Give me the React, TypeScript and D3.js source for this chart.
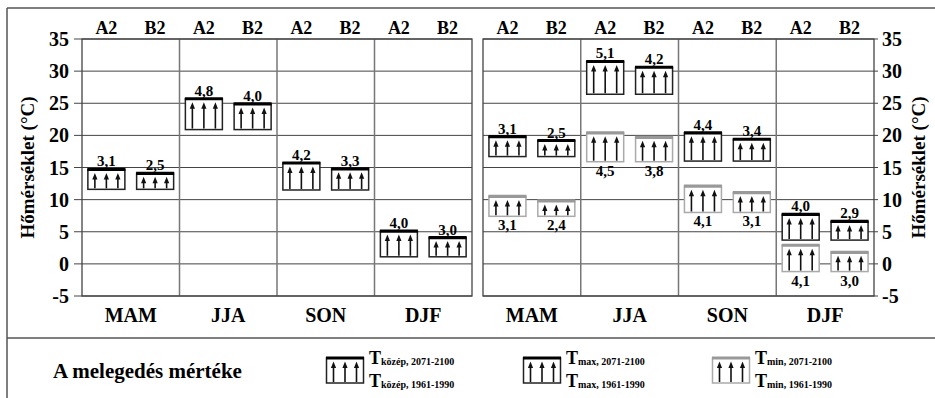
import React, { useEffect, useRef } from 'react';
import * as d3 from 'd3';

const seasons = ['MAM', 'JJA', 'SON', 'DJF'];
const scenarios = ['A2', 'B2'];
const yTicks = [-5, 0, 5, 10, 15, 20, 25, 30, 35];

// T közép, 1961-1990 alap + melegedés (bal panel)
const meanBase = [11.6, 20.9, 11.5, 1.1];
const meanA2 = [3.1, 4.8, 4.2, 4.0];
const meanB2 = [2.5, 4.0, 3.3, 3.0];

// T max (jobb panel)
const maxBase = [16.7, 26.4, 16.0, 3.7];
const maxA2 = [3.1, 5.1, 4.4, 4.0];
const maxB2 = [2.5, 4.2, 3.4, 2.9];

// T min (jobb panel)
const minBase = [7.4, 15.9, 8.0, -1.2];
const minA2 = [3.1, 4.5, 4.1, 4.1];
const minB2 = [2.4, 3.8, 3.1, 3.0];

const FONT = "'Times New Roman', 'Liberation Serif', Tinos, 'Nimbus Roman', 'DejaVu Serif', serif";

const App = () => {
  const ref = useRef<SVGSVGElement>(null);

  useEffect(() => {
    const svg = d3.select(ref.current);
    svg.selectAll('*').remove();
    svg.attr('font-family', FONT).attr('font-weight', 'bold');

    const y = d3.scaleLinear().domain([-5, 35]).range([296, 39]);
    const boxW = 37;

    // keret
    const frame = svg.append('g').attr('stroke', '#555').attr('stroke-width', 1.5).attr('fill', 'none');
    frame.append('line').attr('x1', 7).attr('y1', 8).attr('x2', 935).attr('y2', 8);
    frame.append('line').attr('x1', 7).attr('y1', 8).attr('x2', 7).attr('y2', 398);
    frame.append('line').attr('x1', 7).attr('y1', 338).attr('x2', 935).attr('y2', 338);

    const drawArrows = (g, cx, yTop, yBot) => {
      [-11.5, 0, 11.5].forEach(dx => {
        const ax = cx + dx;
        g.append('line')
          .attr('x1', ax).attr('x2', ax)
          .attr('y1', yBot - 1).attr('y2', yTop + 8)
          .attr('stroke', '#111').attr('stroke-width', 1.6);
        g.append('path')
          .attr('d', `M${ax - 2.6},${yTop + 10}L${ax},${yTop + 3.5}L${ax + 2.6},${yTop + 10}Z`)
          .attr('fill', '#111');
      });
    };

    const drawBox = (g, cx, yTop, yBot, border, topColor) => {
      g.append('rect')
        .attr('x', cx - boxW / 2).attr('y', yTop)
        .attr('width', boxW).attr('height', yBot - yTop)
        .attr('fill', '#fff').attr('stroke', border).attr('stroke-width', 1.5);
      drawArrows(g, cx, yTop, yBot);
      g.append('line')
        .attr('x1', cx - boxW / 2 - 0.5).attr('x2', cx + boxW / 2 + 0.5)
        .attr('y1', yTop).attr('y2', yTop)
        .attr('stroke', topColor).attr('stroke-width', 3.2);
    };

    const drawPanel = (x0, x1, side) => {
      const x = d3.scaleBand().domain(seasons).range([x0, x1]);
      const xs = d3.scaleBand().domain(scenarios).range([0, x.bandwidth()]);
      const g = svg.append('g');

      // rácsvonalak
      yTicks.forEach(t => {
        g.append('line')
          .attr('x1', side === 'left' ? x0 - 8 : x0)
          .attr('x2', side === 'left' ? x1 : x1 + 4)
          .attr('y1', y(t)).attr('y2', y(t))
          .attr('stroke', '#444').attr('stroke-width', 1);
      });
      seasons.slice(1).forEach(s => {
        g.append('line')
          .attr('x1', x(s)).attr('x2', x(s))
          .attr('y1', y(35)).attr('y2', y(-5))
          .attr('stroke', '#777').attr('stroke-width', 1.5);
      });
      g.append('rect')
        .attr('x', x0).attr('y', y(35))
        .attr('width', x1 - x0).attr('height', y(-5) - y(35))
        .attr('fill', 'none').attr('stroke', '#444').attr('stroke-width', 1.3);

      // tengelyfeliratok
      g.selectAll('.tick')
        .data(yTicks)
        .enter().append('text')
        .attr('x', side === 'left' ? x0 - 13 : x1 + 8)
        .attr('y', d => y(d))
        .attr('dy', '0.35em')
        .attr('text-anchor', side === 'left' ? 'end' : 'start')
        .attr('font-size', 20)
        .text(d => d);

      seasons.forEach(s => {
        scenarios.forEach(sc => {
          g.append('text')
            .attr('x', x(s) + xs(sc) + xs.bandwidth() / 2)
            .attr('y', 34)
            .attr('text-anchor', 'middle')
            .attr('font-size', 18)
            .text(sc);
        });
        g.append('text')
          .attr('x', x(s) + x.bandwidth() / 2)
          .attr('y', 322)
          .attr('text-anchor', 'middle')
          .attr('font-size', 20)
          .text(s);
      });

      const title = side === 'left' ? 27 : 918;
      g.append('text')
        .attr('transform', `translate(${title},${(y(35) + y(-5)) / 2}) rotate(-90)`)
        .attr('text-anchor', 'middle')
        .attr('dy', '0.35em')
        .attr('font-size', 19)
        .text('Hőmérséklet (°C)');

      return { x, xs };
    };

    const addSeries = (scales, base, a2, b2, border, topColor, labelBelow) => {
      const { x, xs } = scales;
      const g = svg.append('g');
      seasons.forEach((s, i) => {
        [a2, b2].forEach((warm, j) => {
          const cx = x(s) + xs(scenarios[j]) + xs.bandwidth() / 2;
          const yBot = y(base[i]);
          const yTop = y(base[i] + warm[i]);
          drawBox(g, cx, yTop, yBot, border, topColor);
          g.append('text')
            .attr('x', cx)
            .attr('y', labelBelow ? yBot + 14 : yTop - 3)
            .attr('text-anchor', 'middle')
            .attr('font-size', 15)
            .text(d3.format('.1f')(warm[i]).replace('.', ','));
        });
      });
    };

    const left = drawPanel(82, 472, 'left');
    addSeries(left, meanBase, meanA2, meanB2, '#222', '#000', false);

    const right = drawPanel(483, 874, 'right');
    addSeries(right, maxBase, maxA2, maxB2, '#222', '#000', false);
    addSeries(right, minBase, minA2, minB2, '#aaa', '#999', true);

    // jelmagyarázat
    const lg = svg.append('g');
    lg.append('text')
      .attr('x', 53).attr('y', 378)
      .attr('font-size', 21)
      .text('A melegedés mértéke');

    const legendItems = [
      { x: 345, sub: 'közép', border: '#222', top: '#000' },
      { x: 542, sub: 'max', border: '#222', top: '#000' },
      { x: 731, sub: 'min', border: '#aaa', top: '#999' },
    ];
    legendItems.forEach(it => {
      drawBox(lg, it.x, 358, 383, it.border, it.top);
      [['2071-2100', 364], ['1961-1990', 387]].forEach(([per, by]) => {
        const t = lg.append('text')
          .attr('x', it.x + 24).attr('y', by);
        t.append('tspan').attr('font-size', 18).text('T');
        t.append('tspan').attr('font-size', 10).attr('dy', 1).text(`${it.sub}, ${per}`);
      });
    });
  }, []);

  return (
    <div>
      <style>{'body{margin:0}'}</style>
      <svg ref={ref} width={935} height={398} style={{ display: 'block', background: '#fff' }} />
    </div>
  );
};

export default App;
